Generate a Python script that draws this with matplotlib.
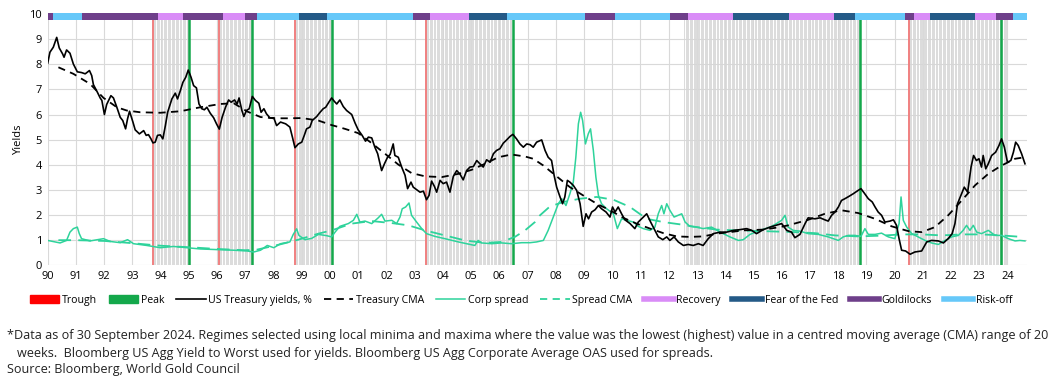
import numpy as np
import matplotlib
matplotlib.use("Agg")
import matplotlib.pyplot as plt
from matplotlib.patches import Patch
from matplotlib.lines import Line2D

plt.rcParams['font.family'] = ['Open Sans', 'DejaVu Sans']

# US Treasury yields, %
ust_year = [1990.00, 1990.08, 1990.20, 1990.32, 1990.41, 1990.53, 1990.58, 1990.67, 1990.79, 1990.91,
            1991.05, 1991.20, 1991.33, 1991.48, 1991.56, 1991.62, 1991.76, 1991.86, 1991.92, 1992.01,
            1992.09, 1992.24, 1992.33, 1992.45, 1992.57, 1992.66, 1992.76, 1992.83, 1992.90, 1993.02,
            1993.10, 1993.25, 1993.40, 1993.49, 1993.57, 1993.66, 1993.73, 1993.81, 1993.89, 1993.99,
            1994.08, 1994.17, 1994.25, 1994.40, 1994.52, 1994.60, 1994.70, 1994.79, 1994.89, 1994.98,
            1995.08, 1995.17, 1995.27, 1995.36, 1995.46, 1995.55, 1995.64, 1995.76, 1995.88, 1995.98,
            1996.08, 1996.18, 1996.30, 1996.41, 1996.50, 1996.62, 1996.71, 1996.78, 1996.88, 1996.95,
            1997.04, 1997.14, 1997.25, 1997.36, 1997.48, 1997.56, 1997.66, 1997.75, 1997.87, 1998.01,
            1998.11, 1998.25, 1998.43, 1998.58, 1998.67, 1998.76, 1998.88, 1999.00, 1999.09, 1999.17,
            1999.29, 1999.37, 1999.53, 1999.65, 1999.76, 1999.85, 1999.96, 2000.06, 2000.15, 2000.24,
            2000.35, 2000.47, 2000.59, 2000.77, 2000.89, 2001.00, 2001.14, 2001.26, 2001.36, 2001.48,
            2001.59, 2001.69, 2001.83, 2001.93, 2002.04, 2002.13, 2002.24, 2002.30, 2002.42, 2002.54,
            2002.66, 2002.75, 2002.87, 2002.95, 2003.07, 2003.19, 2003.31, 2003.42, 2003.51, 2003.60,
            2003.70, 2003.78, 2003.90, 2004.01, 2004.13, 2004.25, 2004.37, 2004.49, 2004.61, 2004.72,
            2004.84, 2004.96, 2005.08, 2005.20, 2005.31, 2005.43, 2005.55, 2005.67, 2005.79, 2005.90,
            2006.02, 2006.14, 2006.26, 2006.38, 2006.48, 2006.61, 2006.73, 2006.85, 2006.97, 2007.09,
            2007.20, 2007.32, 2007.50, 2007.62, 2007.73, 2007.85, 2007.94, 2008.03, 2008.15, 2008.24,
            2008.32, 2008.41, 2008.50, 2008.62, 2008.74, 2008.86, 2008.97, 2009.07, 2009.16, 2009.27,
            2009.39, 2009.51, 2009.62, 2009.78, 2009.92, 2010.01, 2010.10, 2010.21, 2010.33, 2010.45,
            2010.63, 2010.80, 2010.92, 2011.04, 2011.22, 2011.36, 2011.51, 2011.63, 2011.79, 2011.93,
            2012.04, 2012.19, 2012.34, 2012.52, 2012.69, 2012.87, 2013.05, 2013.22, 2013.40, 2013.58,
            2013.82, 2014.05, 2014.29, 2014.53, 2014.76, 2014.94, 2015.11, 2015.35, 2015.59, 2015.82,
            2016.00, 2016.18, 2016.35, 2016.47, 2016.65, 2016.83, 2016.94, 2017.18, 2017.36, 2017.53,
            2017.65, 2017.77, 2017.89, 2018.01, 2018.12, 2018.24, 2018.38, 2018.54, 2018.71, 2018.81,
            2018.93, 2019.07, 2019.21, 2019.31, 2019.42, 2019.54, 2019.66, 2019.84, 2019.96, 2020.07,
            2020.16, 2020.25, 2020.39, 2020.55, 2020.72, 2020.96, 2021.14, 2021.31, 2021.55, 2021.73,
            2021.90, 2022.04, 2022.14, 2022.23, 2022.35, 2022.47, 2022.59, 2022.71, 2022.80, 2022.90,
            2022.99, 2023.08, 2023.14, 2023.23, 2023.32, 2023.44, 2023.58, 2023.70, 2023.79, 2023.89,
            2024.00, 2024.12, 2024.21, 2024.29, 2024.38, 2024.50, 2024.62]
ust_yield = [8.04, 8.48, 8.68, 9.07, 8.65, 8.41, 8.28, 8.57, 8.44, 8.01,
             7.70, 7.67, 7.62, 7.75, 7.55, 7.19, 6.89, 6.66, 6.56, 6.00,
             6.40, 6.75, 6.66, 6.29, 5.89, 5.76, 5.43, 5.83, 6.13, 5.70,
             5.39, 5.23, 5.36, 5.17, 5.20, 5.03, 4.87, 4.90, 5.17, 5.19,
             5.03, 5.56, 6.09, 6.62, 6.85, 6.62, 6.95, 7.28, 7.48, 7.77,
             7.48, 7.15, 7.06, 6.42, 6.23, 6.19, 6.29, 6.05, 5.87, 5.63,
             5.42, 5.89, 6.29, 6.58, 6.49, 6.58, 6.42, 6.66, 6.16, 5.92,
             6.16, 6.23, 6.72, 6.56, 6.45, 6.09, 6.23, 6.03, 5.87, 5.87,
             5.56, 5.70, 5.63, 5.50, 5.10, 4.68, 4.83, 4.90, 5.17, 5.43,
             5.50, 5.76, 5.92, 6.09, 6.23, 6.29, 6.49, 6.66, 6.53, 6.42,
             6.58, 6.32, 6.16, 6.00, 5.66, 5.39, 5.17, 4.94, 5.10, 5.07,
             4.70, 4.44, 3.77, 4.04, 4.30, 4.41, 4.83, 4.37, 4.30, 3.91,
             3.58, 3.05, 3.31, 3.11, 3.01, 2.91, 2.95, 2.61, 2.78, 3.35,
             3.14, 2.91, 3.38, 3.25, 3.31, 2.91, 3.54, 3.77, 3.62, 3.40,
             3.77, 3.91, 3.93, 4.17, 4.04, 3.91, 4.20, 4.10, 4.44, 4.57,
             4.64, 4.86, 4.99, 5.13, 5.21, 5.03, 4.83, 4.70, 4.83, 4.80,
             4.70, 4.90, 4.99, 4.57, 4.30, 4.17, 3.58, 3.11, 2.72, 2.45,
             2.72, 3.38, 3.31, 3.18, 2.98, 2.45, 1.55, 2.05, 1.85, 2.12,
             2.21, 2.38, 2.25, 2.12, 1.92, 2.32, 2.12, 2.32, 2.05, 1.81,
             1.66, 1.46, 1.72, 1.85, 2.05, 1.72, 1.39, 1.13, 1.02, 1.13,
             0.99, 1.13, 0.93, 0.79, 0.83, 0.79, 0.86, 0.79, 1.06, 1.26,
             1.32, 1.32, 1.39, 1.42, 1.46, 1.39, 1.26, 1.42, 1.52, 1.60,
             1.66, 1.39, 1.32, 1.10, 1.23, 1.66, 1.89, 1.85, 1.89, 1.81,
             1.76, 1.99, 2.12, 2.32, 2.58, 2.65, 2.74, 2.85, 2.98, 3.05,
             2.87, 2.65, 2.52, 2.32, 2.12, 1.99, 1.72, 1.76, 1.81, 1.59,
             1.06, 0.60, 0.57, 0.44, 0.53, 0.57, 0.93, 0.99, 0.97, 0.89,
             1.06, 1.26, 1.66, 2.45, 2.78, 3.11, 2.91, 3.91, 4.37, 4.17,
             4.24, 3.91, 4.37, 3.84, 4.04, 4.37, 4.50, 4.77, 5.03, 4.70,
             4.10, 4.17, 4.50, 4.90, 4.77, 4.44, 4.04]

# Treasury centred moving average
ust_cma_year = [1990.38, 1990.91, 1991.50, 1991.98, 1992.45, 1992.80, 1993.28, 1993.99, 1994.70, 1995.41,
                1996.12, 1996.59, 1997.07, 1997.54, 1998.01, 1998.54, 1999.00, 1999.59, 2000.06, 2000.53,
                2001.00, 2001.48, 2001.95, 2002.42, 2002.89, 2003.37, 2003.96, 2004.55, 2005.02, 2005.49,
                2005.96, 2006.43, 2006.91, 2007.20, 2007.56, 2008.03, 2008.50, 2008.97, 2009.45, 2009.92,
                2010.39, 2010.86, 2011.34, 2011.81, 2012.28, 2012.75, 2013.22, 2013.70, 2014.17, 2014.64,
                2015.35, 2015.94, 2016.23, 2016.94, 2017.53, 2018.12, 2018.71, 2019.31, 2019.90, 2020.49,
                2020.96, 2021.43, 2021.90, 2022.38, 2022.85, 2023.32, 2023.79, 2024.27, 2024.62]
ust_cma = [7.88, 7.62, 7.22, 6.66, 6.29, 6.16, 6.09, 6.07, 6.13, 6.29,
           6.42, 6.45, 6.12, 5.90, 5.85, 5.85, 5.86, 5.76, 5.58, 5.43,
           5.26, 4.86, 4.44, 4.01, 3.67, 3.54, 3.51, 3.64, 3.80, 4.04,
           4.30, 4.41, 4.33, 4.24, 3.97, 3.54, 3.11, 2.78, 2.45, 2.19,
           1.89, 1.66, 1.46, 1.28, 1.15, 1.13, 1.15, 1.26, 1.32, 1.39,
           1.42, 1.52, 1.59, 1.81, 2.05, 2.19, 2.08, 1.85, 1.55, 1.36,
           1.32, 1.52, 1.99, 2.58, 3.18, 3.64, 3.97, 4.24, 4.30]

# Corporate spread
corp_year = [1990.00, 1990.44, 1990.67, 1990.79, 1990.91, 1991.05, 1991.12, 1991.20, 1991.50, 1991.98,
             1992.21, 1992.57, 1992.83, 1993.04, 1993.51, 1993.99, 1994.46, 1994.93, 1995.41, 1996.12,
             1996.59, 1997.07, 1997.30, 1997.54, 1997.78, 1998.01, 1998.25, 1998.58, 1998.70, 1998.82,
             1998.90, 1999.11, 1999.35, 1999.59, 1999.88, 2000.06, 2000.18, 2000.35, 2000.65, 2000.83,
             2000.95, 2001.06, 2001.24, 2001.48, 2001.71, 2001.83, 2001.95, 2002.19, 2002.36, 2002.48,
             2002.56, 2002.68, 2002.80, 2002.89, 2003.07, 2003.25, 2003.42, 2003.72, 2004.07, 2004.55,
             2004.84, 2005.13, 2005.25, 2005.37, 2005.73, 2006.08, 2006.43, 2006.79, 2007.09, 2007.32,
             2007.56, 2007.73, 2007.91, 2008.09, 2008.21, 2008.36, 2008.50, 2008.62, 2008.71, 2008.80,
             2008.88, 2008.95, 2009.05, 2009.15, 2009.23, 2009.33, 2009.42, 2009.51, 2009.62, 2009.80,
             2010.04, 2010.18, 2010.33, 2010.51, 2010.75, 2010.92, 2011.10, 2011.34, 2011.51, 2011.63,
             2011.75, 2011.83, 2011.93, 2012.04, 2012.19, 2012.34, 2012.46, 2012.58, 2012.75, 2012.99,
             2013.22, 2013.52, 2013.82, 2014.17, 2014.47, 2014.64, 2014.88, 2015.23, 2015.59, 2015.76,
             2016.00, 2016.12, 2016.23, 2016.41, 2016.65, 2016.94, 2017.30, 2017.65, 2018.01, 2018.18,
             2018.36, 2018.60, 2018.81, 2018.95, 2019.07, 2019.31, 2019.54, 2019.78, 2020.01, 2020.16,
             2020.23, 2020.31, 2020.43, 2020.61, 2020.84, 2021.08, 2021.31, 2021.55, 2021.79, 2022.02,
             2022.26, 2022.43, 2022.55, 2022.67, 2022.79, 2022.91, 2023.08, 2023.32, 2023.56, 2023.79,
             2024.03, 2024.27, 2024.44, 2024.62]
corp_spread = [0.99, 0.89, 0.99, 1.32, 1.46, 1.52, 1.26, 1.06, 0.97, 1.06,
               0.95, 0.90, 1.02, 0.86, 0.79, 0.70, 0.75, 0.70, 0.65, 0.62,
               0.60, 0.57, 0.53, 0.60, 0.79, 0.70, 0.86, 0.93, 1.23, 1.45,
               1.19, 1.02, 1.07, 1.23, 1.18, 1.13, 1.32, 1.55, 1.66, 1.79,
               2.03, 1.72, 1.76, 1.66, 1.89, 2.03, 1.76, 1.79, 1.66, 1.92,
               2.25, 2.32, 2.48, 1.99, 1.72, 1.46, 1.26, 1.15, 1.06, 0.93,
               0.86, 0.79, 0.99, 0.89, 0.86, 0.89, 0.86, 0.90, 0.90, 0.93,
               0.99, 1.39, 1.92, 2.45, 2.65, 2.38, 2.85, 3.31, 4.30, 5.63,
               6.09, 5.76, 4.83, 5.23, 5.43, 4.57, 3.51, 2.78, 2.45, 2.25,
               2.05, 1.46, 1.85, 1.79, 1.72, 1.55, 1.46, 1.39, 1.52, 2.05,
               2.38, 2.05, 2.45, 2.19, 1.92, 1.99, 2.05, 1.72, 1.55, 1.52,
               1.46, 1.52, 1.32, 1.13, 0.99, 1.02, 1.23, 1.39, 1.52, 1.62,
               1.79, 1.99, 1.52, 1.39, 1.36, 1.26, 1.23, 1.13, 0.99, 1.13,
               1.19, 1.19, 1.15, 1.46, 1.23, 1.23, 1.28, 1.13, 1.06, 1.66,
               2.72, 1.79, 1.52, 1.26, 1.13, 0.99, 0.89, 0.83, 0.99, 1.13,
               1.19, 1.39, 1.59, 1.39, 1.59, 1.32, 1.26, 1.39, 1.19, 1.19,
               1.06, 0.97, 0.99, 0.97]

# Spread centred moving average
corp_cma_year = [1990.38, 1991.00, 1992.00, 1993.00, 1994.00, 1995.00, 1996.00, 1997.00, 1997.40, 1997.80,
                 1998.30, 1998.88, 1999.59, 2000.06, 2000.77, 2001.48, 2002.19, 2002.78, 2003.37, 2004.07,
                 2004.78, 2005.49, 2006.08, 2006.55, 2006.91, 2007.26, 2007.44, 2007.79, 2008.27, 2008.86,
                 2009.45, 2010.04, 2010.63, 2011.22, 2011.81, 2012.40, 2012.99, 2013.70, 2014.41, 2015.35,
                 2016.47, 2017.18, 2017.89, 2018.71, 2019.54, 2020.25, 2020.96, 2021.67, 2022.38, 2023.08,
                 2023.79, 2024.50]
corp_cma = [1.00, 1.00, 0.97, 0.88, 0.78, 0.72, 0.65, 0.60, 0.62, 0.72,
            0.85, 1.02, 1.26, 1.39, 1.66, 1.76, 1.68, 1.59, 1.39, 1.19,
            0.99, 0.89, 0.93, 1.13, 1.39, 1.72, 1.99, 2.34, 2.52, 2.65,
            2.72, 2.61, 2.32, 1.85, 1.72, 1.63, 1.52, 1.42, 1.39, 1.36,
            1.32, 1.28, 1.19, 1.15, 1.18, 1.23, 1.23, 1.19, 1.23, 1.23,
            1.19, 1.13]

# Regimes (start of each block), last block ends at regime_end
regime_start = [1990.00, 1990.20, 1991.20, 1993.90, 1994.80, 1996.20, 1997.00, 1997.40, 1998.90, 1999.90,
                2002.95, 2003.54, 2004.94, 2006.26, 2009.03, 2010.10, 2012.04, 2012.69, 2014.26, 2016.27,
                2017.85, 2018.60, 2020.37, 2020.69, 2021.26, 2022.86, 2023.60, 2024.18]
regime_name = ['Goldilocks', 'Risk-off', 'Goldilocks', 'Recovery', 'Goldilocks', 'Recovery', 'Goldilocks',
               'Risk-off', 'Fear of the Fed', 'Risk-off', 'Goldilocks', 'Recovery', 'Fear of the Fed',
               'Risk-off', 'Goldilocks', 'Risk-off', 'Goldilocks', 'Recovery', 'Fear of the Fed', 'Recovery',
               'Fear of the Fed', 'Risk-off', 'Goldilocks', 'Recovery', 'Fear of the Fed', 'Recovery',
               'Goldilocks', 'Risk-off']
regime_end = 2024.68
regime_colors = {'Recovery': '#D98CF7', 'Fear of the Fed': '#245A87',
                 'Goldilocks': '#6E3F8A', 'Risk-off': '#66C8F9'}

# Troughs and peaks, and the shaded trough-to-peak windows
troughs = [1993.72, 1996.06, 1998.75, 2003.39, 2020.50]
peaks = [1994.99, 1997.23, 2000.07, 2006.48, 2018.78, 2023.77]
shade_start = [1993.72, 1996.06, 1998.75, 2003.39, 2012.55, 2020.50]
shade_end = [1994.99, 1997.23, 2000.07, 2006.48, 2018.78, 2024.00]

years = list(range(1990, 2025))

fig = plt.figure(figsize=(10.57, 3.85), dpi=100)
ax = fig.add_axes([0.0451, 0.3109, 0.9262, 0.6527])

for s, e in zip(shade_start, shade_end):
    ax.vlines(np.arange(s, e, 2.5 / 52), 0, 9.8, color='#d6d6d6', lw=0.6, zorder=1)
ax.vlines(troughs, 0, 9.8, color='#F08080', lw=1.4, zorder=2)
ax.vlines(peaks, 0, 9.8, color='#14A84B', lw=1.8, zorder=2)

ax.plot(corp_year, corp_spread, color='#2ED39B', lw=1.1, zorder=3)
ax.plot(corp_cma_year, corp_cma, color='#2ED39B', lw=1.3, ls=(0, (7, 4)), zorder=3)
ax.plot(ust_year, ust_yield, color='black', lw=1.2, zorder=4)
ax.plot(ust_cma_year, ust_cma, color='black', lw=1.3, ls=(0, (4, 3)), zorder=4)

ends = regime_start[1:] + [regime_end]
for s, e, n in zip(regime_start, ends, regime_name):
    ax.broken_barh([(s, e - s)], (9.78, 0.28), facecolors=regime_colors[n], clip_on=False, zorder=5)

ax.set_xlim(1990, 2024.68)
ax.set_ylim(0, 10)
ax.set_yticks(range(0, 11))
ax.set_xticks(years)
ax.set_xticklabels([f"{y % 100:02d}" for y in years])
ax.grid(True, color='#d9d9d9', lw=0.8, zorder=0)
ax.set_axisbelow(True)
for sp in ax.spines.values():
    sp.set_visible(False)
ax.tick_params(length=0, labelsize=8, colors='#000000', pad=4)
ax.set_ylabel('Yields', fontsize=8, labelpad=4)

handles = [Patch(color='#FF0000', label='Trough'),
           Patch(color='#14A84B', label='Peak'),
           Line2D([], [], color='black', lw=1.2, label='US Treasury yields, %'),
           Line2D([], [], color='black', lw=1.3, ls=(0, (4, 3)), label='Treasury CMA'),
           Line2D([], [], color='#2ED39B', lw=1.1, label='Corp spread'),
           Line2D([], [], color='#2ED39B', lw=1.3, ls=(0, (4, 3)), label='Spread CMA')]
for n in ['Recovery', 'Fear of the Fed', 'Goldilocks', 'Risk-off']:
    handles.append(Line2D([], [], color=regime_colors[n], lw=4, label=n))
fig.legend(handles=handles, loc='center', bbox_to_anchor=(0.493, 0.22), ncol=10, frameon=False,
           fontsize=7.6, handlelength=2.8, handletextpad=0.25, columnspacing=1.1)

fig.text(0.007, 1 - 336 / 385, '*Data as of 30 September 2024. Regimes selected using local minima and maxima '
         'where the value was the lowest (highest) value in a centred moving average (CMA) range of 20',
         fontsize=9.1, va='center', color='#222222')
fig.text(0.016, 1 - 353 / 385, 'weeks.  Bloomberg US Agg Yield to Worst used for yields. Bloomberg US Agg '
         'Corporate Average OAS used for spreads.', fontsize=9.1, va='center', color='#222222')
fig.text(0.007, 1 - 370 / 385, 'Source: Bloomberg, World Gold Council', fontsize=9.1, va='center',
         color='#222222')

fig.savefig('out.png', dpi=100)
